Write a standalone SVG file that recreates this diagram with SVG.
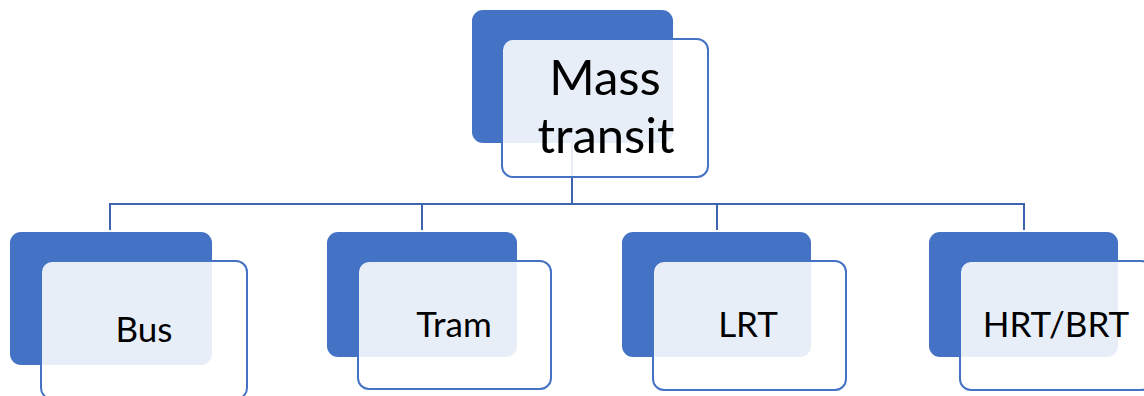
<svg xmlns="http://www.w3.org/2000/svg" width="1144" height="396" viewBox="0 0 1144 396">
  <style>
    .back { fill: #4472C4; }
    .front { fill: #FFFFFF; fill-opacity: 0.88; stroke: #4472C4; stroke-width: 2; }
    .conn { fill: none; stroke: #3D64AE; stroke-width: 2; }
    .lbl { font-family: Lato, "Liberation Sans", Arial, sans-serif; fill: #000000; text-anchor: middle; }
  </style>
  <rect width="1144" height="396" fill="#FFFFFF"/>
  <g id="connectors">
    <path class="conn" d="M572,143 V204 M110,204 H1024 M110,203 V230 M422,203 V230 M717,203 V230 M1024,203 V230"/>
  </g>
  <g id="node-mass-transit">
    <rect class="back" x="472" y="10" width="201" height="133" rx="11"/>
    <rect class="front" x="502" y="39" width="206" height="138" rx="11"/>
    <text class="lbl" x="605" y="95" font-size="49">Mass</text>
    <text class="lbl" x="606" y="153" font-size="49">transit</text>
  </g>
  <g id="node-bus">
    <rect class="back" x="10" y="232" width="202" height="133" rx="11"/>
    <rect class="front" x="41" y="261" width="206" height="138" rx="11"/>
    <text class="lbl" x="144" y="342" font-size="35">Bus</text>
  </g>
  <g id="node-tram">
    <rect class="back" x="327" y="232" width="190" height="125" rx="11"/>
    <rect class="front" x="358" y="261" width="193" height="128" rx="11"/>
    <text class="lbl" x="454" y="337" font-size="35">Tram</text>
  </g>
  <g id="node-lrt">
    <rect class="back" x="622" y="232" width="189" height="125" rx="11"/>
    <rect class="front" x="653" y="261" width="193" height="129" rx="11"/>
    <text class="lbl" x="748" y="337" font-size="35">LRT</text>
  </g>
  <g id="node-hrt-brt">
    <rect class="back" x="929" y="232" width="189" height="125" rx="11"/>
    <rect class="front" x="960" y="261" width="192" height="129" rx="11"/>
    <text class="lbl" x="1056" y="337" font-size="35">HRT/BRT</text>
  </g>
</svg>
